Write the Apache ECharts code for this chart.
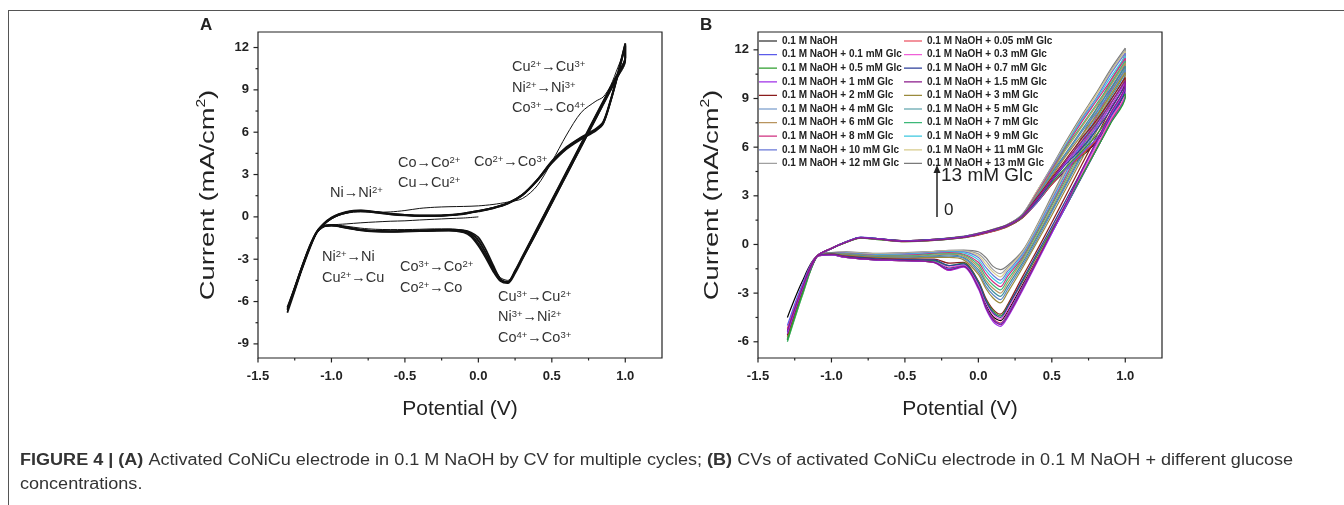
<!DOCTYPE html>
<html>
<head>
<meta charset="utf-8">
<script src="https://cdn.jsdelivr.net/npm/echarts@6.0.0/dist/echarts.min.js"></script>
<style>
  html, body { margin: 0; padding: 0; background: #fff; }
  #main { width: 1344px; height: 505px; }
</style>
</head>
<body>
<div id="main"></div>
<script>
// ---------- panel A : CV of activated CoNiCu, several cycles ----------
const aStartV = [0.00, -0.10, -0.20, -0.30, -0.40, -0.50, -0.60, -0.70, -0.80, -0.90, -1.00, -1.05, -1.10, -1.15, -1.20, -1.25, -1.30]
const aStartI = [0.0, -0.08, -0.12, -0.17, -0.22, -0.28, -0.31, -0.36, -0.42, -0.5, -0.58, -0.72, -1.15, -2.25, -3.7, -5.2, -6.7]
const aFwdV = [-1.30, -1.25, -1.20, -1.15, -1.10, -1.05, -1.00, -0.95, -0.90, -0.85, -0.80, -0.70, -0.60, -0.50, -0.40, -0.30, -0.20, -0.10, 0.00, 0.10, 0.20, 0.30, 0.40, 0.50, 0.60, 0.70, 0.80, 0.85, 0.90, 0.95, 1.00]
const aRevV = [1.00, 0.95, 0.90, 0.80, 0.70, 0.60, 0.50, 0.40, 0.30, 0.25, 0.20, 0.15, 0.10, 0.05, 0.00, -0.05, -0.10, -0.20, -0.30, -0.40, -0.50, -0.60, -0.70, -0.80, -0.90, -1.00, -1.05, -1.10, -1.15, -1.20, -1.25, -1.30]

const cyc1Fwd = [-6.7, -5.2, -3.7, -2.3, -1.15, -0.55, -0.15, 0.1, 0.25, 0.33, 0.35, 0.33, 0.35, 0.45, 0.6, 0.68, 0.72, 0.74, 0.78, 0.88, 1.05, 1.3, 2.2, 3.9, 5.8, 7.4, 8.2, 8.5, 9.3, 10.6, 11.9]
const cyc1Rev = [11.0, 9.9, 8.9, 6.9, 4.9, 2.9, 0.9, -1.1, -3.0, -3.9, -4.5, -4.3, -3.5, -2.5, -1.6, -1.15, -0.95, -0.85, -0.85, -0.88, -0.9, -0.9, -0.88, -0.8, -0.66, -0.55, -0.62, -1.05, -2.1, -3.5, -5.0, -6.5]
const cyc2Fwd = [-6.6, -5.1, -3.6, -2.2, -1.1, -0.5, -0.1, 0.15, 0.3, 0.4, 0.42, 0.32, 0.2, 0.12, 0.08, 0.08, 0.12, 0.22, 0.4, 0.62, 0.95, 1.55, 2.6, 3.9, 4.9, 5.6, 6.2, 6.7, 8.2, 10.1, 12.2]
const cyc2Rev = [11.2, 10.1, 9.1, 7.1, 5.1, 3.1, 1.1, -0.9, -2.9, -3.9, -4.65, -4.4, -3.4, -2.3, -1.45, -1.1, -0.95, -0.9, -0.92, -0.95, -0.98, -1.0, -0.98, -0.9, -0.72, -0.58, -0.62, -1.05, -2.1, -3.5, -5.0, -6.6]
const cyc3Fwd = [-6.4, -5.0, -3.5, -2.15, -1.05, -0.45, -0.05, 0.2, 0.35, 0.45, 0.47, 0.36, 0.23, 0.15, 0.1, 0.1, 0.14, 0.25, 0.43, 0.65, 0.98, 1.58, 2.62, 3.95, 4.95, 5.65, 6.25, 6.75, 8.3, 10.2, 12.3]
const cyc3Rev = [11.3, 10.2, 9.2, 7.2, 5.2, 3.2, 1.2, -0.8, -2.8, -3.8, -4.6, -4.45, -3.6, -2.55, -1.7, -1.2, -1.0, -0.93, -0.95, -0.98, -1.0, -1.02, -1.0, -0.92, -0.75, -0.6, -0.64, -1.08, -2.15, -3.55, -5.05, -6.4]
const cyc4Fwd = [-6.5, -5.05, -3.55, -2.2, -1.08, -0.48, -0.08, 0.18, 0.33, 0.43, 0.45, 0.35, 0.22, 0.14, 0.09, 0.09, 0.13, 0.24, 0.42, 0.64, 0.97, 1.57, 2.58, 3.85, 4.85, 5.55, 6.15, 6.65, 8.25, 10.15, 12.25]
const cyc4Rev = [11.25, 10.15, 9.15, 7.15, 5.15, 3.15, 1.15, -0.85, -2.85, -3.85, -4.62, -4.5, -3.75, -2.75, -1.9, -1.3, -1.05, -0.95, -0.97, -1.0, -1.02, -1.04, -1.02, -0.94, -0.76, -0.61, -0.65, -1.1, -2.2, -3.6, -5.1, -6.5]
const cyc5Fwd = [-6.8, -5.25, -3.7, -2.3, -1.12, -0.52, -0.12, 0.13, 0.28, 0.38, 0.4, 0.3, 0.18, 0.1, 0.06, 0.06, 0.1, 0.2, 0.38, 0.6, 0.93, 1.53, 2.55, 3.8, 4.8, 5.5, 6.1, 6.6, 8.15, 10.05, 12.1]
const cyc5Rev = [11.1, 10.0, 9.0, 7.0, 5.0, 3.0, 1.0, -1.0, -3.0, -4.0, -4.7, -4.55, -3.85, -2.9, -2.05, -1.4, -1.1, -0.97, -0.99, -1.02, -1.05, -1.06, -1.04, -0.96, -0.78, -0.62, -0.66, -1.12, -2.25, -3.65, -5.2, -6.8]

// ---------- panel B : CVs with glucose ----------
const bFwdV = [-1.30, -1.20, -1.10, -1.00, -0.90, -0.80, -0.70, -0.50, -0.30, -0.10, 0.00, 0.10, 0.20, 0.30, 0.40, 0.50, 0.60, 0.70, 0.80, 0.90, 1.00]
const bRevV = [1.00, 0.90, 0.80, 0.70, 0.60, 0.50, 0.40, 0.30, 0.20, 0.15, 0.10, 0.05, 0.00, -0.10, -0.20, -0.30, -0.50, -0.70, -0.90, -1.00, -1.10, -1.20, -1.30]

const glc0 = [-4.5, -2.3, -0.72, -0.22, 0.16, 0.43, 0.36, 0.2, 0.27, 0.44, 0.6, 0.82, 1.12, 1.65, 2.6, 3.7, 4.6, 5.4, 6.3, 7.6, 9.4,
  9.2, 7.5, 5.8, 4.1, 2.4, 0.75, -0.9, -2.5, -4.1, -4.7, -4.45, -3.7, -2.55, -1.3, -1.45, -1.1, -1.0, -0.95, -0.8, -0.65, -0.75, -2.3, -4.5]
const glc005 = [-5.2, -2.6, -0.74, -0.24, 0.13, 0.4, 0.33, 0.18, 0.25, 0.42, 0.58, 0.8, 1.1, 1.64, 2.6, 3.7, 4.7, 5.5, 6.4, 7.7, 9.5,
  9.3, 7.6, 5.9, 4.2, 2.5, 0.8, -0.9, -2.6, -4.25, -4.85, -4.55, -3.8, -2.6, -1.3, -1.6, -1.1, -1.0, -0.95, -0.8, -0.65, -0.75, -2.6, -5.2]
const glc01 = [-5.0, -2.5, -0.74, -0.23, 0.17, 0.45, 0.38, 0.22, 0.3, 0.47, 0.64, 0.86, 1.16, 1.7, 2.6, 3.8, 4.7, 5.6, 6.5, 7.8, 9.4,
  9.2, 7.5, 5.8, 4.1, 2.4, 0.7, -1.0, -2.65, -4.3, -4.9, -4.6, -3.8, -2.6, -1.3, -1.5, -1.05, -1.0, -0.95, -0.8, -0.65, -0.75, -2.5, -5.0]
const glc03 = [-5.3, -2.7, -0.75, -0.24, 0.14, 0.41, 0.34, 0.19, 0.27, 0.44, 0.62, 0.84, 1.14, 1.7, 2.7, 3.8, 4.8, 5.7, 6.7, 8.0, 9.6,
  9.4, 7.7, 6.0, 4.3, 2.6, 0.95, -0.7, -2.35, -4.0, -4.6, -4.3, -3.55, -2.45, -1.25, -1.4, -1.0, -0.98, -0.92, -0.78, -0.62, -0.75, -2.7, -5.3]
const glc05 = [-5.9, -3.1, -0.76, -0.25, 0.12, 0.39, 0.32, 0.17, 0.25, 0.42, 0.6, 0.83, 1.13, 1.68, 2.7, 3.8, 4.8, 5.7, 6.7, 8.0, 9.3,
  9.1, 7.45, 5.8, 4.15, 2.5, 0.9, -0.7, -2.3, -3.8, -4.4, -4.1, -3.4, -2.3, -1.15, -1.3, -1.0, -0.96, -0.9, -0.76, -0.62, -0.75, -3.1, -5.9]
const glc07 = [-5.4, -2.8, -0.75, -0.25, 0.16, 0.44, 0.37, 0.22, 0.3, 0.47, 0.65, 0.88, 1.18, 1.73, 2.7, 3.9, 5.0, 5.9, 7.0, 8.3, 9.8,
  9.6, 7.9, 6.2, 4.5, 2.8, 1.1, -0.55, -2.2, -3.85, -4.5, -4.2, -3.45, -2.35, -1.2, -1.3, -0.95, -0.94, -0.88, -0.75, -0.6, -0.75, -2.8, -5.4]
const glc1 = [-5.5, -2.8, -0.75, -0.25, 0.15, 0.43, 0.36, 0.21, 0.29, 0.46, 0.64, 0.87, 1.17, 1.73, 2.8, 4.0, 5.1, 6.1, 7.2, 8.5, 10.0,
  9.8, 8.0, 6.2, 4.4, 2.5, 0.7, -1.1, -2.85, -4.5, -5.05, -4.75, -3.95, -2.75, -1.4, -1.6, -1.12, -1.0, -0.95, -0.8, -0.65, -0.75, -2.8, -5.5]
const glc15 = [-5.3, -2.7, -0.74, -0.24, 0.14, 0.41, 0.34, 0.19, 0.27, 0.44, 0.62, 0.85, 1.15, 1.72, 2.8, 4.0, 5.2, 6.3, 7.4, 8.7, 10.1,
  9.9, 8.1, 6.3, 4.5, 2.6, 0.8, -1.0, -2.75, -4.4, -4.95, -4.65, -3.85, -2.65, -1.35, -1.55, -1.1, -0.98, -0.93, -0.78, -0.62, -0.74, -2.7, -5.3]
const glc2 = [-5.6, -2.9, -0.75, -0.25, 0.16, 0.44, 0.37, 0.23, 0.31, 0.48, 0.66, 0.9, 1.2, 1.76, 2.9, 4.1, 5.3, 6.5, 7.6, 8.9, 10.3,
  10.1, 8.35, 6.6, 4.85, 3.1, 1.35, -0.35, -2.0, -3.7, -4.3, -4.0, -3.3, -2.25, -1.1, -1.15, -0.9, -0.9, -0.85, -0.72, -0.6, -0.74, -2.9, -5.6]
const glc3 = [-5.7, -3.0, -0.76, -0.25, 0.15, 0.42, 0.35, 0.21, 0.29, 0.47, 0.65, 0.88, 1.19, 1.77, 2.9, 4.2, 5.5, 6.7, 7.9, 9.2, 10.6,
  10.4, 8.65, 6.9, 5.2, 3.5, 1.8, 0.15, -1.45, -2.95, -3.6, -3.3, -2.7, -1.85, -0.95, -0.8, -0.8, -0.85, -0.8, -0.66, -0.56, -0.73, -3.0, -5.7]
const glc4 = [-5.6, -2.9, -0.75, -0.25, 0.14, 0.41, 0.34, 0.2, 0.28, 0.46, 0.64, 0.88, 1.19, 1.78, 3.0, 4.3, 5.6, 6.9, 8.1, 9.4, 10.8,
  10.6, 8.85, 7.1, 5.4, 3.7, 2.0, 0.3, -1.3, -2.75, -3.4, -3.1, -2.55, -1.7, -0.85, -0.72, -0.75, -0.82, -0.78, -0.64, -0.56, -0.72, -2.9, -5.6]
const glc5 = [-5.8, -3.0, -0.76, -0.26, 0.16, 0.43, 0.37, 0.23, 0.31, 0.49, 0.67, 0.91, 1.21, 1.8, 3.0, 4.4, 5.7, 7.0, 8.3, 9.6, 11.0,
  10.8, 9.05, 7.3, 5.55, 3.8, 2.1, 0.45, -1.15, -2.55, -3.2, -2.9, -2.35, -1.55, -0.8, -0.65, -0.7, -0.78, -0.75, -0.62, -0.55, -0.72, -3.0, -5.8]
const glc6 = [-5.7, -3.0, -0.75, -0.25, 0.15, 0.42, 0.35, 0.22, 0.3, 0.48, 0.66, 0.9, 1.2, 1.8, 3.1, 4.5, 5.9, 7.2, 8.5, 9.8, 11.2,
  11.0, 9.2, 7.45, 5.7, 3.95, 2.25, 0.55, -1.0, -2.35, -3.0, -2.7, -2.2, -1.4, -0.72, -0.6, -0.65, -0.74, -0.72, -0.6, -0.54, -0.72, -3.0, -5.7]
const glc7 = [-6.0, -3.2, -0.77, -0.26, 0.13, 0.4, 0.33, 0.2, 0.28, 0.46, 0.64, 0.88, 1.19, 1.8, 3.1, 4.5, 6.0, 7.3, 8.6, 9.9, 11.3,
  11.1, 9.35, 7.6, 5.85, 4.1, 2.4, 0.7, -0.9, -2.15, -2.8, -2.5, -2.0, -1.25, -0.65, -0.55, -0.6, -0.7, -0.7, -0.58, -0.53, -0.71, -3.2, -6.0]
const glc8 = [-5.8, -3.0, -0.76, -0.25, 0.16, 0.43, 0.36, 0.23, 0.31, 0.49, 0.68, 0.92, 1.23, 1.82, 3.2, 4.6, 6.1, 7.5, 8.8, 10.1, 11.5,
  11.3, 9.5, 7.75, 6.0, 4.25, 2.5, 0.8, -0.8, -1.95, -2.6, -2.3, -1.8, -1.1, -0.6, -0.5, -0.55, -0.66, -0.68, -0.56, -0.52, -0.71, -3.0, -5.8]
const glc9 = [-5.9, -3.1, -0.76, -0.26, 0.14, 0.41, 0.34, 0.21, 0.29, 0.47, 0.66, 0.9, 1.21, 1.82, 3.2, 4.6, 6.2, 7.6, 8.9, 10.3, 11.6,
  11.4, 9.6, 7.85, 6.1, 4.35, 2.6, 0.9, -0.7, -1.8, -2.4, -2.1, -1.6, -0.95, -0.52, -0.46, -0.52, -0.62, -0.65, -0.54, -0.52, -0.71, -3.1, -5.9]
const glc10 = [-5.9, -3.1, -0.76, -0.26, 0.15, 0.42, 0.35, 0.22, 0.31, 0.49, 0.68, 0.92, 1.23, 1.84, 3.2, 4.7, 6.2, 7.7, 9.0, 10.5, 11.8,
  11.6, 9.8, 8.0, 6.25, 4.5, 2.75, 1.0, -0.6, -1.65, -2.2, -1.9, -1.4, -0.8, -0.46, -0.42, -0.48, -0.58, -0.62, -0.52, -0.51, -0.7, -3.1, -5.9]
const glc11 = [-6.0, -3.2, -0.77, -0.26, 0.13, 0.4, 0.34, 0.21, 0.3, 0.48, 0.67, 0.91, 1.22, 1.84, 3.3, 4.7, 6.3, 7.8, 9.2, 10.6, 11.9,
  11.7, 9.9, 8.1, 6.35, 4.6, 2.85, 1.1, -0.5, -1.5, -2.0, -1.7, -1.2, -0.7, -0.42, -0.4, -0.45, -0.55, -0.6, -0.5, -0.5, -0.7, -3.2, -6.0]
const glc12 = [-5.8, -3.0, -0.76, -0.25, 0.16, 0.43, 0.36, 0.24, 0.32, 0.51, 0.7, 0.94, 1.25, 1.86, 3.3, 4.8, 6.3, 7.8, 9.2, 10.7, 12.0,
  11.8, 10.0, 8.2, 6.45, 4.7, 2.9, 1.15, -0.45, -1.4, -1.8, -1.55, -1.0, -0.58, -0.38, -0.38, -0.43, -0.52, -0.57, -0.48, -0.5, -0.7, -3.0, -5.8]
const glc13 = [-5.9, -3.1, -0.76, -0.26, 0.15, 0.42, 0.35, 0.23, 0.31, 0.5, 0.69, 0.93, 1.24, 1.87, 3.3, 4.8, 6.4, 7.9, 9.3, 10.8, 12.1,
  11.9, 10.1, 8.3, 6.6, 4.8, 3.0, 1.2, -0.4, -1.3, -1.55, -1.35, -0.8, -0.45, -0.35, -0.36, -0.42, -0.5, -0.55, -0.46, -0.5, -0.7, -3.1, -5.9]

const bNames = ['0.1 M NaOH', '0.1 M NaOH + 0.05 mM Glc', '0.1 M NaOH + 0.1 mM Glc', '0.1 M NaOH + 0.3 mM Glc',
  '0.1 M NaOH + 0.5 mM Glc', '0.1 M NaOH + 0.7 mM Glc', '0.1 M NaOH + 1 mM Glc', '0.1 M NaOH + 1.5 mM Glc',
  '0.1 M NaOH + 2 mM Glc', '0.1 M NaOH + 3 mM Glc', '0.1 M NaOH + 4 mM Glc', '0.1 M NaOH + 5 mM Glc',
  '0.1 M NaOH + 6 mM Glc', '0.1 M NaOH + 7 mM Glc', '0.1 M NaOH + 8 mM Glc', '0.1 M NaOH + 9 mM Glc',
  '0.1 M NaOH + 10 mM Glc', '0.1 M NaOH + 11 mM Glc', '0.1 M NaOH + 12 mM Glc', '0.1 M NaOH + 13 mM Glc']
const bData = [glc0, glc005, glc01, glc03, glc05, glc07, glc1, glc15, glc2, glc3, glc4, glc5, glc6, glc7, glc8, glc9, glc10, glc11, glc12, glc13]
const bColors = ['#000000', '#e8283c', '#5b5bea', '#f060d8', '#2e9e2e', '#2c3f9a', '#a030e8', '#8a1a8a', '#8b1c1c', '#9a8a3c',
  '#5a85c0', '#3d8f9a', '#b8945e', '#3cb878', '#d03080', '#3cc8e0', '#6a78d8', '#d8cc8c', '#a0a0a0', '#7a7a7a']
// stacking order of the traces (first = bottom): the purple 1–1.5 mM traces end up on top
const bDrawOrder = [0, 19, 18, 17, 16, 15, 14, 13, 12, 11, 10, 9, 8, 1, 2, 3, 4, 5, 6, 7]

// tick labels
const xMajor = [-1.5, -1.0, -0.5, 0.0, 0.5, 1.0]
const xMinor = [-1.25, -0.75, -0.25, 0.25, 0.75]
const aYMajor = [-9, -6, -3, 0, 3, 6, 9, 12]
const aYMinor = [-7.5, -4.5, -1.5, 1.5, 4.5, 7.5, 10.5]
const bYMajor = [-6, -3, 0, 3, 6, 9, 12]
const bYMinor = [-4.5, -1.5, 1.5, 4.5, 7.5, 10.5]

const FONT = '"Liberation Sans", Arial, Helvetica, sans-serif'
const INK = '#222'

const pairs = (vs, is) => vs.map((v, i) => [v, is[i]])
const bLoopV = bFwdV.concat(bRevV)

const xAxisFor = grid => ({
  gridIndex: grid, type: 'value', min: -1.5, max: 1.25, position: 'bottom', name: 'Potential (V)',
  nameLocation: 'middle', nameGap: 41,
  nameTextStyle: { fontFamily: FONT, fontSize: 21, color: INK },
  axisLine: { show: false, onZero: false }, splitLine: { show: false }, axisTick: { show: false },
  axisLabel: { customValues: xMajor, margin: 12, fontFamily: FONT, fontSize: 13, fontWeight: 'bold', color: INK,
    formatter: v => v.toFixed(1) }
})
const yAxisFor = (grid, min, major) => ({
  gridIndex: grid, type: 'value', min: min, max: 13.1, position: 'left',
  axisLine: { show: false, onZero: false }, splitLine: { show: false }, axisTick: { show: false },
  axisLabel: { customValues: major, margin: 9, fontFamily: FONT, fontSize: 13, fontWeight: 'bold', color: INK }
})

const series = []
const aCycles = [
  pairs(aStartV, aStartI).concat(pairs(aFwdV, cyc1Fwd), pairs(aRevV, cyc1Rev)),
  pairs(aFwdV, cyc2Fwd).concat(pairs(aRevV, cyc2Rev)),
  pairs(aFwdV, cyc3Fwd).concat(pairs(aRevV, cyc3Rev)),
  pairs(aFwdV, cyc4Fwd).concat(pairs(aRevV, cyc4Rev)),
  pairs(aFwdV, cyc5Fwd).concat(pairs(aRevV, cyc5Rev))
]
aCycles.forEach((d, i) => {
  series.push({
    type: 'line', xAxisIndex: 0, yAxisIndex: 0, data: d, symbol: 'none', smooth: 0.3,
    silent: true, lineStyle: { color: '#111', width: i === 0 ? 1 : 1.7 }
  })
})
bDrawOrder.forEach(k => {
  series.push({
    name: bNames[k], type: 'line', xAxisIndex: 1, yAxisIndex: 1, data: pairs(bLoopV, bData[k]),
    symbol: 'none', smooth: 0.3, silent: true,
    lineStyle: { color: bColors[k], width: 1.2 }, itemStyle: { color: bColors[k] }
  })
})

// a plain short line as legend key
const LINE_ICON = 'path://M0,0h0.02v0.02h-0.02z M0,4.4h18v1.2h-18z M17.98,9.98h0.02v0.02h-0.02z'
const legendBase = {
  orient: 'vertical', top: 36, padding: 0, itemWidth: 18, itemHeight: 10, itemGap: 3.6, selectedMode: false,
  icon: LINE_ICON, itemStyle: { borderWidth: 0 },
  textStyle: { fontFamily: FONT, fontSize: 10, fontWeight: 'bold', color: '#222', lineHeight: 10 }
}

const sup = { fontFamily: FONT, fontSize: 9.5, color: '#333', verticalAlign: 'top', lineHeight: 9 }
const note = (x, y, text) => ({
  type: 'text', x: x, y: y, silent: true,
  style: { text: text, fill: '#333', fontFamily: FONT, fontSize: 14.5, lineHeight: 16,
    align: 'left', verticalAlign: 'middle', rich: { s: sup } }
})
const yTitle = x => ({
  type: 'text', x: x, y: 195, rotation: Math.PI / 2, scaleX: 1.3, silent: true,
  style: { text: 'Current (mA/cm{s|2})', fill: INK, fontFamily: FONT, fontSize: 21, lineHeight: 24,
    align: 'center', verticalAlign: 'middle',
    rich: { s: { fontFamily: FONT, fontSize: 12, color: INK, verticalAlign: 'top', lineHeight: 12 } } }
})

const graphics = [
  { type: 'line', silent: true, shape: { x1: 8, y1: 10.5, x2: 1344, y2: 10.5 }, style: { stroke: '#555', lineWidth: 1 } },
  { type: 'line', silent: true, shape: { x1: 8.5, y1: 10, x2: 8.5, y2: 505 }, style: { stroke: '#555', lineWidth: 1 } },
  { type: 'text', x: 200, y: 25, style: { text: 'A', fill: INK, fontFamily: FONT, fontSize: 17, fontWeight: 'bold', verticalAlign: 'middle' } },
  { type: 'text', x: 700, y: 25, style: { text: 'B', fill: INK, fontFamily: FONT, fontSize: 17, fontWeight: 'bold', verticalAlign: 'middle' } },
  yTitle(208),
  yTitle(712),
  note(512, 67, 'Cu{s|2+}→Cu{s|3+}'),
  note(512, 88, 'Ni{s|2+}→Ni{s|3+}'),
  note(512, 108, 'Co{s|3+}→Co{s|4+}'),
  note(398, 163, 'Co→Co{s|2+}'),
  note(474, 162, 'Co{s|2+}→Co{s|3+}'),
  note(398, 183, 'Cu→Cu{s|2+}'),
  note(330, 193, 'Ni→Ni{s|2+}'),
  note(322, 257, 'Ni{s|2+}→Ni'),
  note(322, 278, 'Cu{s|2+}→Cu'),
  note(400, 267, 'Co{s|3+}→Co{s|2+}'),
  note(400, 288, 'Co{s|2+}→Co'),
  note(498, 297, 'Cu{s|3+}→Cu{s|2+}'),
  note(498, 317, 'Ni{s|3+}→Ni{s|2+}'),
  note(498, 338, 'Co{s|4+}→Co{s|3+}'),
  { type: 'line', silent: true, shape: { x1: 937, y1: 217, x2: 937, y2: 171 }, style: { stroke: INK, lineWidth: 1.5 } },
  { type: 'polygon', silent: true, shape: { points: [[933.5, 173], [940.5, 173], [937, 165]] }, style: { fill: INK } },
  { type: 'text', x: 941, y: 176, style: { text: '13 mM Glc', fill: INK, fontFamily: FONT, fontSize: 19, verticalAlign: 'middle' } },
  { type: 'text', x: 944, y: 210, style: { text: '0', fill: INK, fontFamily: FONT, fontSize: 17, verticalAlign: 'middle' } },
  { type: 'text', x: 20, y: 461, scaleX: 1.128, silent: true, style: {
      text: '{b|FIGURE 4 | (A)} Activated CoNiCu electrode in 0.1 M NaOH by CV for multiple cycles; {b|(B)} CVs of activated CoNiCu electrode in 0.1 M NaOH + different glucose',
      fill: '#333', fontFamily: FONT, fontSize: 16, verticalAlign: 'middle',
      rich: { b: { fontFamily: FONT, fontSize: 16, fontWeight: 'bold', color: '#222' } } } },
  { type: 'text', x: 20, y: 485, scaleX: 1.128, silent: true,
    style: { text: 'concentrations.', fill: '#333', fontFamily: FONT, fontSize: 16, verticalAlign: 'middle' } }
]

const chart = echarts.init(document.getElementById('main'))
chart.setOption({
  animation: false,
  backgroundColor: '#fff',
  grid: [
    { left: 258, top: 32, width: 404, height: 326, show: true, borderColor: INK, borderWidth: 1.2, backgroundColor: 'transparent' },
    { left: 758, top: 32, width: 404, height: 326, show: true, borderColor: INK, borderWidth: 1.2, backgroundColor: 'transparent' }
  ],
  xAxis: [xAxisFor(0), xAxisFor(1)],
  yAxis: [yAxisFor(0, -10, aYMajor), yAxisFor(1, -7, bYMajor)],
  legend: [
    Object.assign({}, legendBase, { left: 759, data: bNames.filter((n, k) => k % 2 === 0) }),
    Object.assign({}, legendBase, { left: 904, data: bNames.filter((n, k) => k % 2 === 1) })
  ],
  series: series
})

// outward major / minor ticks, placed through the axes' own scales
const tickStyle = { stroke: INK, lineWidth: 1.2 }
const ticks = []
const addTicks = (grid, yMin, yMajor, yMinor) => {
  const put = (vals, len, dir) => vals.forEach(v => {
    const p = dir === 'x' ? chart.convertToPixel({ gridIndex: grid }, [v, yMin])
                          : chart.convertToPixel({ gridIndex: grid }, [-1.5, v])
    ticks.push({ type: 'line', silent: true, style: tickStyle,
      shape: dir === 'x' ? { x1: p[0], y1: p[1], x2: p[0], y2: p[1] + len }
                         : { x1: p[0], y1: p[1], x2: p[0] - len, y2: p[1] } })
  })
  put(xMajor, 4.5, 'x'); put(xMinor, 2.5, 'x')
  put(yMajor, 4.5, 'y'); put(yMinor, 2.5, 'y')
}
addTicks(0, -10, aYMajor, aYMinor)
addTicks(1, -7, bYMajor, bYMinor)

chart.setOption({ graphic: graphics.concat(ticks) })
</script>
</body>
</html>
